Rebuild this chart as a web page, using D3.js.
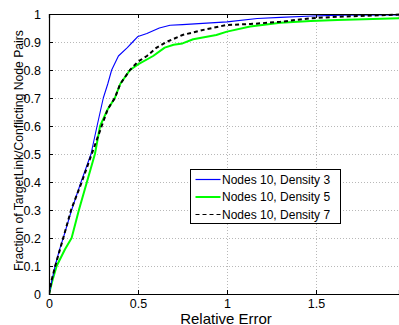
<!DOCTYPE html>
<html>
<head>
<meta charset="utf-8">
<script src="https://cdn.jsdelivr.net/npm/d3@7"></script>
<style>
  html, body { margin: 0; padding: 0; background: #fff; }
  svg { display: block; font-family: "Liberation Sans", Arial, Helvetica, sans-serif; }
</style>
</head>
<body>
<svg id="chart" width="399" height="325"></svg>
<script>
// CDF of relative error per network configuration
const seriesNames = ["Nodes 10, Density 3", "Nodes 10, Density 5", "Nodes 10, Density 7"];

const density3X = [0, 0.01, 0.034, 0.06, 0.08, 0.127, 0.18, 0.236, 0.27, 0.305, 0.33, 0.352, 0.39, 0.44, 0.47, 0.50, 0.55, 0.62, 0.68, 0.75, 1.0, 1.17, 1.3, 1.48, 1.65, 1.97];
const density3Y = [0, 0.03, 0.1, 0.16, 0.2, 0.3, 0.4, 0.5, 0.6, 0.7, 0.75, 0.8, 0.85, 0.88, 0.9, 0.92, 0.93, 0.95, 0.96, 0.962, 0.972, 0.984, 0.988, 0.993, 0.996, 0.997];

const density5X = [0, 0.02, 0.043, 0.09, 0.127, 0.168, 0.213, 0.258, 0.287, 0.33, 0.37, 0.40, 0.455, 0.5, 0.585, 0.65, 0.70, 0.75, 0.81, 0.94, 1.0, 1.13, 1.30, 1.47, 1.62, 1.97];
const density5Y = [0, 0.05, 0.1, 0.16, 0.2, 0.3, 0.4, 0.5, 0.6, 0.66, 0.7, 0.75, 0.8, 0.82, 0.85, 0.88, 0.89, 0.895, 0.91, 0.925, 0.937, 0.955, 0.969, 0.975, 0.979, 0.985];

const density7X = [0, 0.015, 0.035, 0.08, 0.124, 0.184, 0.24, 0.268, 0.296, 0.33, 0.37, 0.40, 0.455, 0.5, 0.55, 0.605, 0.66, 0.75, 0.886, 1.0, 1.13, 1.30, 1.47, 1.62, 1.97];
const density7Y = [0, 0.05, 0.1, 0.2, 0.3, 0.4, 0.5, 0.55, 0.6, 0.66, 0.7, 0.75, 0.8, 0.83, 0.85, 0.88, 0.9, 0.925, 0.946, 0.961, 0.964, 0.972, 0.985, 0.99, 0.998];

const xTicks = [0, 0.5, 1, 1.5];
const yTicks = [0, 0.1, 0.2, 0.3, 0.4, 0.5, 0.6, 0.7, 0.8, 0.9, 1];
const xTickLabels = ["0", "0.5", "1", "1.5"];
const yTickLabels = ["0", "0.1", "0.2", "0.3", "0.4", "0.5", "0.6", "0.7", "0.8", "0.9", "1"];

const series = [
  { name: seriesNames[0], xs: density3X, ys: density3Y, color: "#0000ff", width: 1.1, dash: null },
  { name: seriesNames[1], xs: density5X, ys: density5Y, color: "#00ff00", width: 2, dash: null },
  { name: seriesNames[2], xs: density7X, ys: density7Y, color: "#000000", width: 2, dash: "4,3" }
];

const svg = d3.select("#chart");
const W = 399, H = 325;
const m = { left: 49, top: 14, right: 0, bottom: 31 };
const pw = W - m.left - m.right, ph = H - m.top - m.bottom;

const x = d3.scaleLinear().domain([0, pw / 178]).range([m.left, m.left + pw]);
const y = d3.scaleLinear().domain([0, 1]).range([m.top + ph, m.top]);

svg.append("rect").attr("width", W).attr("height", H).attr("fill", "#fff");

// dotted grid
const grid = svg.append("g").attr("stroke", "#b8b8b8").attr("stroke-width", 1).attr("stroke-dasharray", "1,2");
grid.selectAll("line.gx").data(xTicks.slice(1)).join("line")
  .attr("x1", d => Math.round(x(d)) + 0.5).attr("x2", d => Math.round(x(d)) + 0.5)
  .attr("y1", m.top).attr("y2", m.top + ph);
grid.selectAll("line.gy").data(yTicks.slice(1, -1)).join("line")
  .attr("y1", d => Math.round(y(d)) + 0.5).attr("y2", d => Math.round(y(d)) + 0.5)
  .attr("x1", m.left).attr("x2", m.left + pw);

// curves
svg.append("clipPath").attr("id", "plotclip").append("rect")
  .attr("x", m.left).attr("y", m.top - 1).attr("width", pw).attr("height", ph + 1);
const line = d3.line().x(d => x(d[0])).y(d => y(d[1]));
const curves = svg.append("g").attr("clip-path", "url(#plotclip)");
[series[1], series[0], series[2]].forEach(s => {
  curves.append("path")
    .datum(s.xs.map((v, i) => [v, s.ys[i]]))
    .attr("d", line)
    .attr("fill", "none")
    .attr("stroke", s.color)
    .attr("stroke-width", s.width)
    .attr("stroke-dasharray", s.dash)
    .attr("stroke-linejoin", "round");
});

// axes (ticks pointing inward)
const xAxis = d3.axisBottom(x).tickValues(xTicks).tickSize(-4).tickPadding(5)
  .tickFormat((d, i) => xTickLabels[i]);
const gx = svg.append("g").attr("transform", `translate(0,${m.top + ph})`).call(xAxis);
const yAxis = d3.axisLeft(y).tickValues(yTicks).tickSize(-4).tickPadding(8)
  .tickFormat((d, i) => yTickLabels[i]);
const gy = svg.append("g").attr("transform", `translate(${m.left},0)`).call(yAxis);
const xTop = d3.axisTop(x).tickValues(xTicks).tickSize(-4).tickFormat("");
svg.append("g").attr("transform", `translate(0,${m.top})`).call(xTop);

[gx, gy].forEach(g => {
  g.selectAll("text").attr("font-size", 12.5).attr("fill", "#000")
    .attr("font-family", "'Liberation Sans', Arial, sans-serif");
  g.selectAll("path, line").attr("stroke", "#000");
});
svg.selectAll(".domain").attr("stroke", "#000").attr("stroke-width", 1.2);

// axis titles
svg.append("text")
  .attr("x", x(1) - 1).attr("y", 323.5)
  .attr("text-anchor", "middle").attr("font-size", 15).text("Relative Error");
svg.append("text")
  .attr("transform", `translate(22.5,${150.5}) rotate(-90)`)
  .attr("text-anchor", "middle").attr("font-size", 12.2).text("Fraction of TargetLink/Conflicting Node Pairs");

// legend
const lg = svg.append("g").attr("transform", "translate(190.5,169.5)");
lg.append("rect").attr("width", 150).attr("height", 54).attr("fill", "#fff").attr("stroke", "#000").attr("stroke-width", 1);
series.forEach((s, i) => {
  const cy = 10 + i * 17.5;
  lg.append("line").attr("x1", 5).attr("x2", 30).attr("y1", cy).attr("y2", cy)
    .attr("stroke", s.color).attr("stroke-width", s.dash ? 1 : (i === 1 ? 2 : 1.2))
    .attr("stroke-dasharray", s.dash ? "4,3" : null);
  lg.append("text").attr("x", 31.5).attr("y", cy + 4.3).attr("font-size", 12).text(s.name);
});
</script>
</body>
</html>
